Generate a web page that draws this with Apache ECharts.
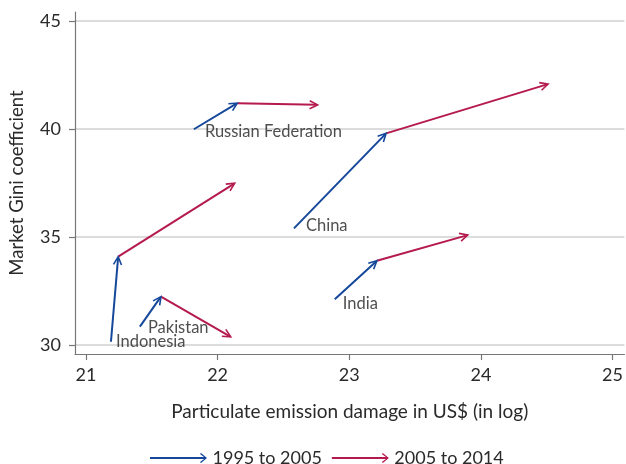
<!DOCTYPE html>
<html>
<head>
<meta charset="utf-8">
<script src="https://cdn.jsdelivr.net/npm/echarts@6/dist/echarts.min.js"></script>
<style>html,body{margin:0;padding:0;background:#fff}#c{width:626px;height:464px}</style>
</head>
<body>
<div id="c"></div>
<script>
// ---- data ----
const countries = ['Russian Federation', 'China', 'India', 'Pakistan', 'Indonesia'];
const x1995 = [21.82, 22.58, 22.89, 21.41, 21.19];
const y1995 = [39.99, 35.40, 32.12, 30.85, 30.15];
const x2005 = [22.15, 23.28, 23.21, 21.57, 21.245];
const y2005 = [41.20, 39.80, 33.90, 32.24, 34.09];
const x2014 = [22.76, 24.51, 23.90, 22.10, 22.13];
const y2014 = [41.12, 42.08, 35.09, 30.38, 37.49];
const xTicks = [21, 22, 23, 24, 25];
const yTicks = [30, 35, 40, 45];
const seriesNames = ['1995 to 2005', '2005 to 2014'];

// ---- styling ----
const BLUE = '#15479a';
const RED = '#b51a4e';
const FONT = 'Lato';
const labelShift = [[3, 2], [4, -3], [0, 4], [0, 1], [-3, 0]];

function seg(xa, ya, xb, yb) {
  return countries.map((c, i) => [xa[i], ya[i], xb[i], yb[i]]);
}

function renderArrow(params, api) {
  const p0 = api.coord([api.value(0), api.value(1)]);
  const p1 = api.coord([api.value(2), api.value(3)]);
  const dx = p1[0] - p0[0], dy = p1[1] - p0[1];
  const len = Math.hypot(dx, dy) || 1;
  const ux = dx / len, uy = dy / len;
  const L = 8, W = 4;
  const a = [p1[0] - ux * L - uy * W, p1[1] - uy * L + ux * W];
  const b = [p1[0] - ux * L + uy * W, p1[1] - uy * L - ux * W];
  const color = api.visual('color');
  return {
    type: 'group',
    children: [
      { type: 'line', shape: { x1: p0[0], y1: p0[1], x2: p1[0] - ux * 1, y2: p1[1] - uy * 1 },
        style: { stroke: color, lineWidth: 2 } },
      { type: 'polyline', shape: { points: [a, p1, b] },
        style: { stroke: color, lineWidth: 1.6, fill: null } }
    ]
  };
}

const arrowIcon = 'path://M0,4.1 L54,4.1 L50,0.9 L51,0 L57,5 L51,10 L50,9.1 L54,5.9 L0,5.9 Z';

const chart = echarts.init(document.getElementById('c'), null, { renderer: 'canvas' });
chart.setOption({
  animation: false,
  backgroundColor: '#fff',
  grid: { left: 75, right: 0, top: 12, bottom: 110, containLabel: false },
  legend: {
    data: [
      { name: seriesNames[0], icon: arrowIcon },
      { name: seriesNames[1], icon: arrowIcon }
    ],
    left: 145, top: 444,
    itemWidth: 58, itemHeight: 10, itemGap: 10,
    textStyle: { fontFamily: FONT, fontSize: 18, color: '#2a2a2a' }
  },
  xAxis: {
    type: 'value', min: 20.917, max: 25.09,
    name: 'Particulate emission damage in US$ (in log)',
    nameLocation: 'middle', nameGap: 48,
    nameTextStyle: { fontFamily: FONT, fontSize: 19, color: '#2a2a2a' },
    axisLine: { show: true, lineStyle: { color: '#777', width: 1.2 } },
    axisTick: { show: true, customValues: xTicks, length: 6, lineStyle: { color: '#777', width: 1.2 } },
    axisLabel: { customValues: xTicks, margin: 12, fontFamily: FONT, fontSize: 18, color: '#2a2a2a' },
    splitLine: { show: false }
  },
  yAxis: {
    type: 'value', min: 29.583, max: 45.42,
    name: 'Market Gini coefficient',
    nameLocation: 'middle', nameGap: 48, nameRotate: 90,
    nameTextStyle: { fontFamily: FONT, fontSize: 18.5, color: '#2a2a2a' },
    axisLine: { show: true, lineStyle: { color: '#777', width: 1.2 } },
    axisTick: { show: true, customValues: yTicks, length: 6, lineStyle: { color: '#777', width: 1.2 } },
    axisLabel: { customValues: yTicks, margin: 14, fontFamily: FONT, fontSize: 18, color: '#2a2a2a' },
    splitLine: { show: true, lineStyle: { color: '#d0d0d0', width: 1.6 } }
  },
  series: [
    {
      name: seriesNames[0], type: 'custom', coordinateSystem: 'cartesian2d',
      itemStyle: { color: BLUE },
      encode: { x: [0, 2], y: [1, 3] },
      renderItem: renderArrow,
      data: seg(x1995, y1995, x2005, y2005), z: 3
    },
    {
      name: seriesNames[1], type: 'custom', coordinateSystem: 'cartesian2d',
      itemStyle: { color: RED },
      encode: { x: [0, 2], y: [1, 3] },
      renderItem: renderArrow,
      data: seg(x2005, y2005, x2014, y2014), z: 2
    },
    {
      name: 'labels', type: 'scatter', symbolSize: 0, silent: true,
      data: countries.map((c, i) => ({
        value: [x1995[i], y1995[i]], name: c,
        label: { offset: labelShift[i] }
      })),
      label: {
        show: true, position: 'right', distance: 8,
        formatter: p => p.name,
        fontFamily: FONT, fontSize: 16.5, color: '#222'
      },
      z: 4
    }
  ]
});
</script>
</body>
</html>
